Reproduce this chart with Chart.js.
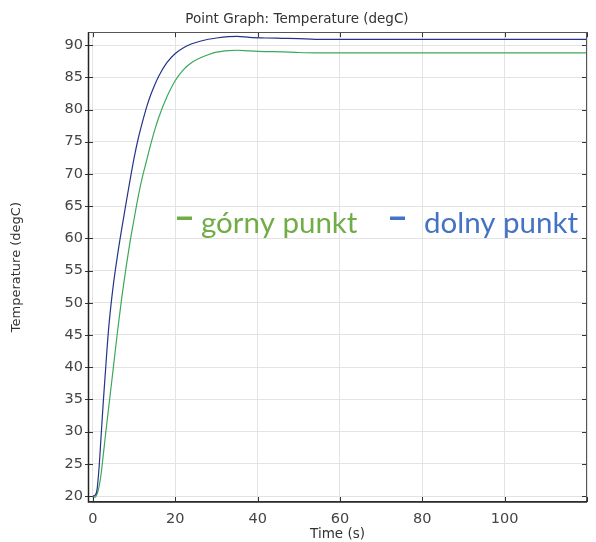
<!DOCTYPE html>
<html>
<head>
<meta charset="utf-8">
<script src="https://cdn.jsdelivr.net/npm/chart.js@4"></script>
<style>
html,body{margin:0;padding:0;background:#fff;}
canvas{display:block;}
</style>
</head>
<body>
<canvas id="c" width="596" height="542"></canvas>
<script>
// ---- data ----
const time = [0,0.5,1,1.5,2,2.5,3,3.5,4,5,6,7,8,9,10,11,12,13,14,15,16,18,20,22,24,26,28,30,33,35,38,42,46,50,54,60,70,80,90,100,110,120];
const dolnyPunkt = [20,20.1,21,24.5,29.5,34.5,39,43.5,47.3,53,57.5,61.5,65.3,69,72.5,75.5,78,80.3,82.2,83.8,85.2,87.3,88.7,89.6,90.2,90.6,90.9,91.1,91.3,91.35,91.2,91.1,91.05,91.0,90.9,90.9,90.9,90.9,90.9,90.9,90.9,90.9];
const gornyPunkt = [19.9,19.8,20.3,21.5,23.5,26.3,29.2,32,34.7,40.2,45.7,50.8,55.3,59.4,63,66.5,69.5,72,74.5,76.8,78.8,82,84.5,86.2,87.3,88,88.5,88.9,89.15,89.2,89.1,89.0,88.95,88.85,88.8,88.8,88.8,88.8,88.8,88.8,88.8,88.8];
const xTicks = [0,20,40,60,80,100,120];
const yTicks = [20,25,30,35,40,45,50,55,60,65,70,75,80,85,90];
const seriesNames = ['górny punkt','dolny punkt'];
const titleText = 'Point Graph: Temperature (degC)';
const xTitle = 'Time (s)';
const yTitle = 'Temperature (degC)';

const toXY = (xs, ys) => xs.map((x, i) => ({x: x, y: ys[i]}));

const framePlugin = {
  id: 'frame',
  afterDraw(chart) {
    const {ctx, chartArea: a, scales} = chart;
    ctx.save();
    ctx.strokeStyle = '#333';
    ctx.lineWidth = 1;
    ctx.beginPath();
    xTicks.forEach(v => {
      const px = Math.round(scales.x.getPixelForValue(v)) + 0.5;
      ctx.moveTo(px, a.bottom); ctx.lineTo(px, a.bottom - 5);
      ctx.moveTo(px, a.top); ctx.lineTo(px, a.top + 5);
    });
    yTicks.forEach(v => {
      const py = Math.round(scales.y.getPixelForValue(v)) + 0.5;
      ctx.moveTo(a.left - 3, py); ctx.lineTo(a.left + 5, py);
      ctx.moveTo(a.right, py); ctx.lineTo(a.right - 5, py);
    });
    ctx.stroke();
    ctx.strokeStyle = '#555';
    ctx.lineWidth = 1;
    ctx.strokeRect(Math.round(a.left) + 0.5, Math.round(a.top) + 0.5, Math.round(a.right - a.left) - 1, Math.round(a.bottom - a.top) - 1);
    ctx.strokeStyle = '#222';
    ctx.lineWidth = 1.5;
    ctx.beginPath();
    ctx.moveTo(a.left + 0.5, a.top); ctx.lineTo(a.left + 0.5, a.bottom);
    ctx.lineTo(a.right, a.bottom);
    ctx.stroke();
    // legend
    ctx.font = '29.5px Lato';
    ctx.textBaseline = 'alphabetic';
    ctx.fillStyle = '#70ad47';
    ctx.fillRect(177, 216.5, 15, 3.5);
    ctx.fillText(seriesNames[0], 201, 233);
    ctx.fillStyle = '#4472c4';
    ctx.fillRect(390, 216.5, 15, 3.5);
    ctx.fillText(seriesNames[1], 424, 233);
    ctx.restore();
  }
};

new Chart(document.getElementById('c'), {
  type: 'line',
  data: {
    datasets: [
      {label: seriesNames[1], data: toXY(time, dolnyPunkt), borderColor: '#26338a', borderWidth: 1.2, pointRadius: 0, cubicInterpolationMode: 'monotone', fill: false},
      {label: seriesNames[0], data: toXY(time, gornyPunkt), borderColor: '#3aa95a', borderWidth: 1.2, pointRadius: 0, cubicInterpolationMode: 'monotone', fill: false}
    ]
  },
  options: {
    responsive: false,
    animation: false,
    devicePixelRatio: 1,
    layout: {padding: {right: 2, left: 0, top: 0, bottom: 0}},
    plugins: {
      legend: {display: false},
      tooltip: {enabled: false},
      title: {display: true, text: titleText, color: '#333', font: {family: 'DejaVu Sans', size: 13.5, weight: 'normal'}, padding: {top: 11, bottom: 5}}
    },
    scales: {
      x: {
        type: 'linear', min: -1.2, max: 120,
        afterBuildTicks: s => { s.ticks = xTicks.map(v => ({value: v})); },
        afterFit: s => { s.height = 40; },
        ticks: {color: '#444', font: {family: 'DejaVu Sans', size: 14.5}, padding: 9, maxRotation: 0, callback: v => v === 120 ? '' : String(v)},
        grid: {color: '#e3e3e3', lineWidth: 1, drawTicks: false},
        border: {display: false},
        title: {display: true, text: xTitle, color: '#333', font: {family: 'DejaVu Sans', size: 13.5}, padding: {top: 0, bottom: -1}}
      },
      y: {
        type: 'linear', min: 19.07, max: 92,
        afterBuildTicks: s => { s.ticks = yTicks.map(v => ({value: v})); },
        afterFit: s => { s.width = 88; },
        ticks: {color: '#444', font: {family: 'DejaVu Sans', size: 14.5}, padding: 5},
        grid: {color: '#e3e3e3', lineWidth: 1, drawTicks: false},
        border: {display: false},
        title: {display: true, text: yTitle, color: '#333', font: {family: 'DejaVu Sans', size: 13}, padding: {top: 9, bottom: 0}}
      }
    }
  },
  plugins: [framePlugin]
});
</script>
</body>
</html>
